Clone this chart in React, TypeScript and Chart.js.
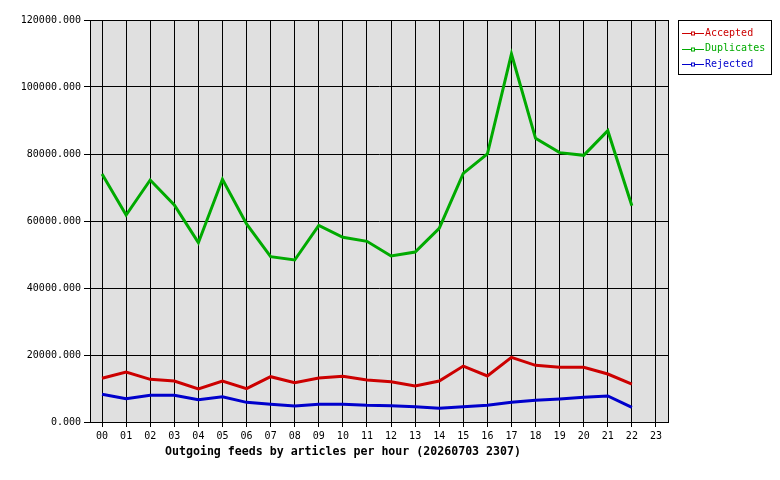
import React, { useEffect, useRef } from "react";
import { Chart, registerables } from "chart.js";

Chart.register(...registerables);

const hours = ["00","01","02","03","04","05","06","07","08","09","10","11","12","13","14","15","16","17","18","19","20","21","22","23"];
const accepted = [13040, 14930, 12740, 12240, 9850, 12240, 9950, 13530, 11740, 13130, 13630, 12540, 12040, 10750, 12240, 16700, 13730, 19300, 16920, 16320, 16320, 14330, 11340, null];
const duplicates = [74030, 61790, 72240, 64770, 53530, 72440, 59100, 49350, 48360, 58700, 55130, 53930, 49550, 50750, 57800, 74230, 80000, 109850, 84680, 80400, 79600, 86960, 64570, null];
const rejected = [8260, 6960, 7960, 7960, 6660, 7560, 5870, 5280, 4780, 5280, 5280, 4980, 4880, 4580, 4090, 4580, 4980, 5870, 6480, 6870, 7370, 7760, 4390, null];
const seriesNames = ["Accepted", "Duplicates", "Rejected"];
const seriesColors = ["#cc0000", "#00aa00", "#0000cc"];
const titleText = "Outgoing feeds by articles per hour (20260703 2307)";

const MONO = "'DejaVu Sans Mono', 'Liberation Mono', monospace";

const decorPlugin = {
  id: "decor",
  beforeDraw(chart: any) {
    const { ctx, chartArea } = chart;
    ctx.save();
    ctx.fillStyle = "#ffffff";
    ctx.fillRect(0, 0, chart.width, chart.height);
    ctx.fillStyle = "#e0e0e0";
    ctx.fillRect(chartArea.left, chartArea.top, chartArea.right - chartArea.left, chartArea.bottom - chartArea.top);
    ctx.restore();
  },
  beforeDatasetsDraw(chart: any) {
    const { ctx, chartArea } = chart;
    ctx.save();
    ctx.strokeStyle = "#000";
    ctx.lineWidth = 1;
    ctx.strokeRect(Math.round(chartArea.left) + 0.5, Math.round(chartArea.top) + 0.5, Math.round(chartArea.right - chartArea.left), Math.round(chartArea.bottom - chartArea.top));
    ctx.restore();
  },
  afterDraw(chart: any) {
    const { ctx } = chart;
    ctx.save();
    // title
    ctx.fillStyle = "#000";
    ctx.font = `bold 11.6px ${MONO}`;
    ctx.textAlign = "left";
    ctx.textBaseline = "middle";
    ctx.fillText(titleText, 165, 452);
    // legend
    const bx = 678.5, by = 20.5, bw = 93, bh = 54;
    ctx.fillStyle = "#fff";
    ctx.fillRect(bx, by, bw, bh);
    ctx.strokeStyle = "#000";
    ctx.lineWidth = 1;
    ctx.strokeRect(bx, by, bw, bh);
    ctx.font = `10px ${MONO}`;
    seriesNames.forEach((name, i) => {
      const y = 33 + i * 15.5;
      const yy = Math.round(y) + 0.5;
      ctx.strokeStyle = seriesColors[i];
      ctx.beginPath();
      ctx.moveTo(682, yy);
      ctx.lineTo(704, yy);
      ctx.stroke();
      ctx.fillStyle = "#fff";
      ctx.fillRect(691.5, yy - 1.5, 3, 3);
      ctx.strokeRect(691.5, yy - 1.5, 3, 3);
      ctx.fillStyle = seriesColors[i];
      ctx.fillText(name, 705, y);
    });
    ctx.restore();
  },
};

export default function App() {
  const ref = useRef<HTMLCanvasElement | null>(null);
  useEffect(() => {
    if (!ref.current) return;
    const mk = (i: number, data: (number | null)[]) => ({
      label: seriesNames[i],
      data,
      borderColor: seriesColors[i],
      backgroundColor: seriesColors[i],
      borderWidth: 3,
      pointRadius: 0,
      tension: 0,
      spanGaps: false,
    });
    const chart = new Chart(ref.current, {
      type: "line",
      data: {
        labels: hours,
        datasets: [mk(0, accepted), mk(1, duplicates), mk(2, rejected)],
      },
      options: {
        responsive: false,
        animation: false,
        devicePixelRatio: 1,
        layout: { padding: { left: 0, top: 20, right: 112, bottom: 0 } },
        plugins: { legend: { display: false }, tooltip: { enabled: false }, title: { display: false } },
        scales: {
          x: {
            type: "category",
            offset: true,
            grid: { offset: false, color: "#000", lineWidth: 1, tickLength: 5, drawTicks: true },
            border: { color: "#000", width: 1 },
            ticks: { color: "#000", font: { family: MONO, size: 10 }, maxRotation: 0, autoSkip: false, padding: 3 },
            afterFit: (s: any) => { s.height = 58; },
          },
          y: {
            min: 0,
            max: 120000,
            grid: { color: "#000", lineWidth: 1, tickLength: 6, drawTicks: true },
            border: { color: "#000", width: 1 },
            ticks: {
              stepSize: 20000,
              color: "#000",
              font: { family: MONO, size: 10 },
              padding: 3,
              callback: (v: any) => Number(v).toFixed(3),
            },
            afterFit: (s: any) => { s.width = 90; },
          },
        },
      },
      plugins: [decorPlugin],
    } as any);
    return () => chart.destroy();
  }, []);
  return (
    <div style={{ position: "absolute", left: 0, top: 0, width: 780, height: 480 }}>
      <canvas ref={ref} width={780} height={480} style={{ width: 780, height: 480, display: "block" }} />
    </div>
  );
}
